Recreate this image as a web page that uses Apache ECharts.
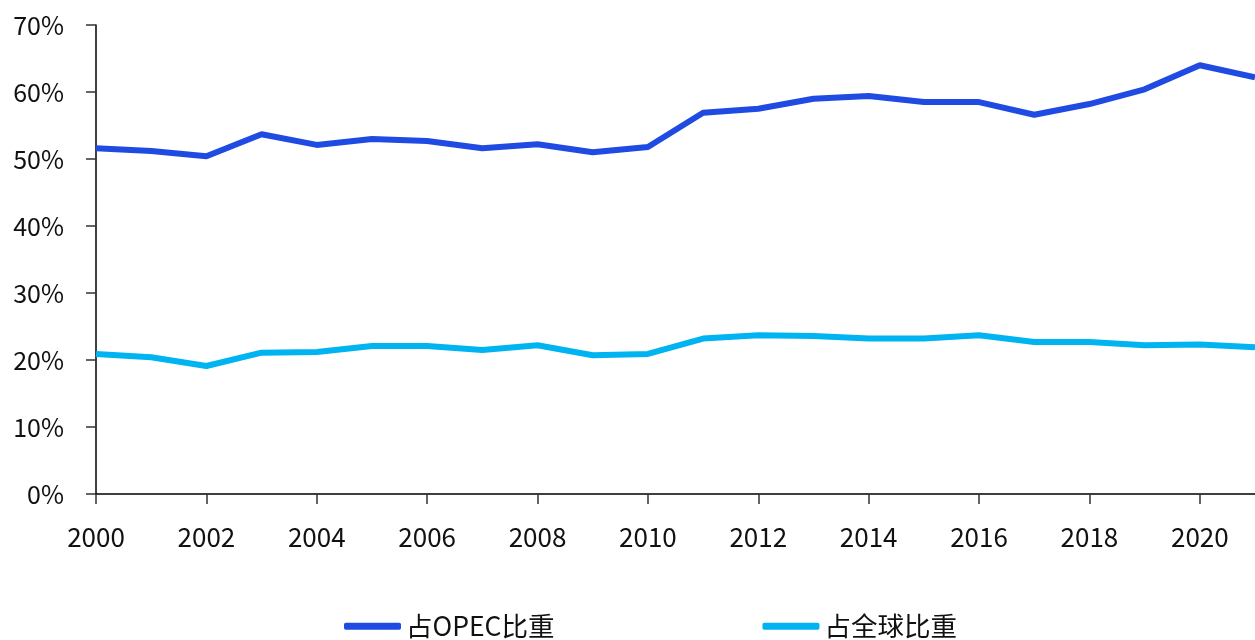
<!DOCTYPE html>
<html>
<head>
<meta charset="utf-8">
<script src="https://cdn.jsdelivr.net/npm/echarts@6/dist/echarts.min.js"></script>
<style>
  html, body { margin: 0; padding: 0; background: #fff; }
  #main { width: 1255px; height: 640px; }
</style>
</head>
<body>
<div id="main"></div>
<script>
  var years = ["2000", "2001", "2002", "2003", "2004", "2005", "2006", "2007", "2008", "2009", "2010",
    "2011", "2012", "2013", "2014", "2015", "2016", "2017", "2018", "2019", "2020", "2021"];
  // 占OPEC比重 (%)
  var opecShare = [51.6, 51.2, 50.4, 53.7, 52.1, 53.0, 52.7, 51.6, 52.2, 51.0, 51.8,
    56.9, 57.5, 59.0, 59.4, 58.5, 58.5, 56.6, 58.2, 60.4, 64.0, 62.2];
  // 占全球比重 (%)
  var globalShare = [20.9, 20.4, 19.1, 21.1, 21.2, 22.1, 22.1, 21.5, 22.2, 20.7, 20.9,
    23.2, 23.7, 23.6, 23.2, 23.2, 23.7, 22.7, 22.7, 22.2, 22.3, 21.9];
  var seriesNames = ["占OPEC比重", "占全球比重"];

  var myChart = echarts.init(document.getElementById("main"));
  var font = "'Noto Sans CJK SC', 'Noto Sans', sans-serif";

  var option = {
    animation: false,
    textStyle: { fontFamily: font },
    grid: { left: 96, right: 0, top: 25, bottom: 146, outerBoundsMode: "none" },
    legend: {
      data: seriesNames,
      left: 339,
      top: 608,
      padding: 5,
      icon: "roundRect",
      itemWidth: 57,
      itemHeight: 7,
      itemGap: 208,
      textStyle: { fontSize: 26.5, color: "#111", fontFamily: font }
    },
    xAxis: {
      type: "category",
      data: years,
      boundaryGap: false,
      axisLine: { lineStyle: { color: "#000", width: 1.5 } },
      axisTick: { interval: 1, length: 10, lineStyle: { color: "#333", width: 1.5 } },
      axisLabel: { interval: 1, fontSize: 26, color: "#111", margin: 30, fontFamily: font }
    },
    yAxis: {
      type: "value",
      min: 0,
      max: 70,
      interval: 10,
      splitLine: { show: false },
      axisLine: { show: true, lineStyle: { color: "#000", width: 1.5 } },
      axisTick: { show: true, length: 10, lineStyle: { color: "#333", width: 1.5 } },
      axisLabel: { formatter: "{value}%", fontSize: 25, color: "#111", margin: 32, fontFamily: font }
    },
    series: [
      {
        name: seriesNames[0],
        type: "line",
        data: opecShare,
        symbol: "none",
        color: "#1F4BE3",
        lineStyle: { width: 6, color: "#1F4BE3" }
      },
      {
        name: seriesNames[1],
        type: "line",
        data: globalShare,
        symbol: "none",
        color: "#00B4F2",
        lineStyle: { width: 6, color: "#00B4F2" }
      }
    ]
  };
  myChart.setOption(option, true);
</script>
</body>
</html>
